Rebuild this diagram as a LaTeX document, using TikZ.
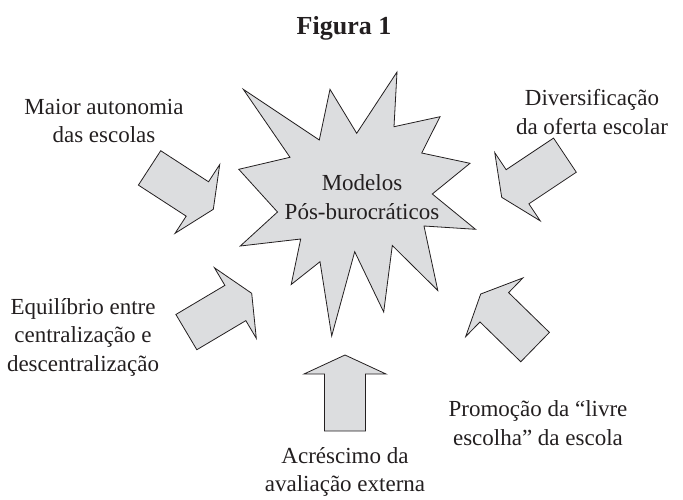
\documentclass[tikz,border=0pt]{standalone}
\usepackage{fontspec}
\setmainfont{Liberation Serif}
\usetikzlibrary{positioning}

\definecolor{starfill}{HTML}{DCDDDF}
\definecolor{inkline}{HTML}{231F20}

\tikzset{
  lbl/.style={align=center, font=\fontsize{23}{28.5}\selectfont, text=inkline, inner sep=0pt},
  shapefill/.style={draw=inkline, fill=starfill, line width=0.8pt, line join=miter},
  bigarrow/.pic={
    \draw[shapefill] (0,0) -- (-19,41) -- (-19,20.5) -- (-76,20.5)
      -- (-76,-20.5) -- (-19,-20.5) -- (-19,-41) -- cycle;
  }
}

\begin{document}
\begin{tikzpicture}[x=1pt, y=-1pt]
        \useasboundingbox (0,0) rectangle (683,499);

        % Title
        \node[lbl, font=\fontsize{26}{30}\selectfont\bfseries] (title) at (344,28) {Figura 1};

        % Star
        \draw[shapefill] (243.3,89.3) -- (319.3,140) -- (330,89.3) -- (356.7,133.3)
          -- (397,72) -- (394,126.7) -- (440,116.7) -- (421.7,153)
          -- (470,163.3) -- (432.3,194) -- (475.5,229.3) -- (424,226)
          -- (437.8,290.5) -- (392.3,245.5) -- (383.7,312) -- (354.7,251.7)
          -- (331.7,336) -- (320,261.7) -- (291.2,284.5) -- (300.7,239)
          -- (240.3,246) -- (277.5,212) -- (238.8,169.3) -- (290,157.3) -- cycle;
        \node[lbl] (modelos) at (362,197) {Modelos\\Pós-burocráticos};

        % Arrows towards the star
        \pic[rotate=-33] at (213.3,209.3) {bigarrow};
        \pic[rotate=213.7] at (501.7,197.3) {bigarrow};
        \pic[rotate=30.7] at (251.7,293.3) {bigarrow};
        \pic[rotate=135.7] at (480.7,294) {bigarrow};
        \pic[rotate=90] at (345,355) {bigarrow};

        % Labels
        \node[lbl] (autonomia) at (104,121) {Maior autonomia\\das escolas};
        \node[lbl] (oferta) at (592,112) {Diversificação\\da oferta escolar};
        \node[lbl] (equilibrio) at (83,337) {Equilíbrio entre\\centralização e\\descentralização};
        \node[lbl] (livre) at (538,423) {Promoção da “livre\\escolha” da escola};
        \node[lbl] (avaliacao) at (345,472) {Acréscimo da\\avaliação externa};
\end{tikzpicture}
\end{document}
